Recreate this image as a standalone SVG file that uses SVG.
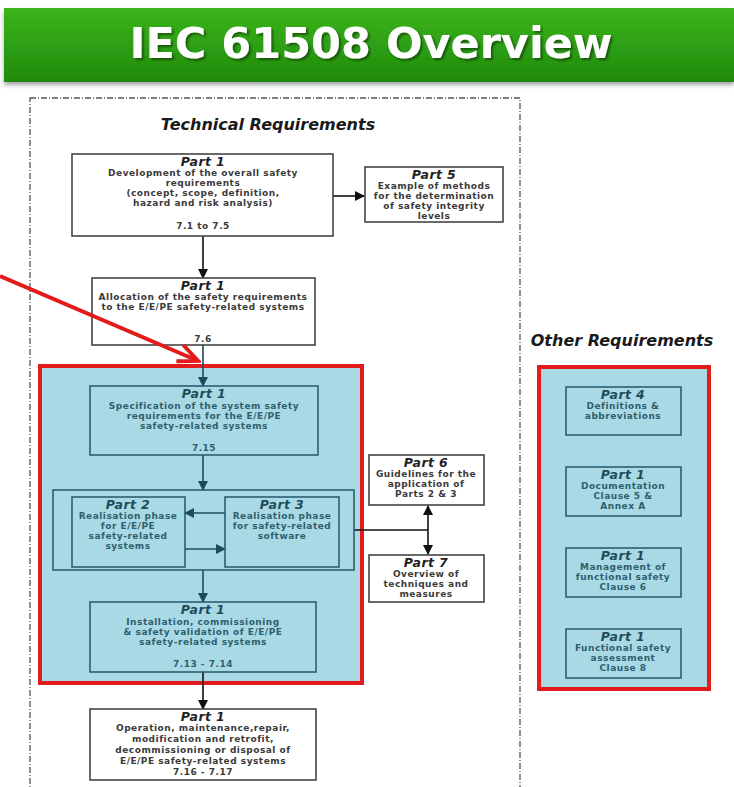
<svg xmlns="http://www.w3.org/2000/svg" width="734" height="787" viewBox="0 0 734 787">
<defs>
<linearGradient id="gb" x1="0" y1="0" x2="0" y2="1">
<stop offset="0" stop-color="#3cb51c"/>
<stop offset="1" stop-color="#1f8a0c"/>
</linearGradient>
<filter id="sh" x="-5%" y="-20%" width="110%" height="150%"><feDropShadow dx="2" dy="2" stdDeviation="1.2" flood-color="#000" flood-opacity="0.45"/></filter>
<filter id="bs" x="-2%" y="-10%" width="104%" height="130%"><feDropShadow dx="0" dy="3" stdDeviation="2" flood-color="#000" flood-opacity="0.35"/></filter>
<marker id="ab" viewBox="0 0 10 10" refX="9" refY="5" markerUnits="userSpaceOnUse" markerWidth="11" markerHeight="10" orient="auto-start-reverse"><path d="M0,0 L10,5 L0,10 z" fill="#111"/></marker>
<marker id="at" viewBox="0 0 10 10" refX="9" refY="5" markerUnits="userSpaceOnUse" markerWidth="11" markerHeight="10" orient="auto-start-reverse"><path d="M0,0 L10,5 L0,10 z" fill="#1d4c5a"/></marker>
<marker id="ar" viewBox="0 0 10 10" refX="8" refY="5" markerUnits="userSpaceOnUse" markerWidth="24" markerHeight="22" orient="auto"><path d="M0,1 L9,5 L0,9" fill="none" stroke="#e31b1b" stroke-width="1.8" stroke-linejoin="miter"/></marker>
</defs>
<style>
text{font-family:"DejaVu Sans",Verdana,sans-serif;text-anchor:middle}
.t{font-size:9px;font-weight:bold;fill:#3a3a3a;letter-spacing:0.5px}
.tb{font-size:9px;font-weight:bold;fill:#2f5f6e;letter-spacing:0.5px}
.h{font-size:12.5px;font-weight:bold;font-style:italic;fill:#222;letter-spacing:0.4px}
.hb{font-size:12.5px;font-weight:bold;font-style:italic;fill:#1d4c5a;letter-spacing:0.4px}
.w{fill:#fff;stroke:#444;stroke-width:1.6}
.b{fill:none;stroke:#2b5f70;stroke-width:1.6}
.red{fill:#a9d9e5;stroke:#e31b1b;stroke-width:4}
.cb{stroke:#111;stroke-width:1.6;fill:none}
.ct{stroke:#1d4c5a;stroke-width:1.6;fill:none}
.sec{font-size:16px;font-weight:bold;font-style:italic;fill:#1a1a1a}
</style>
<rect width="734" height="787" fill="#fff"/>
<g id="banner">
<rect x="4" y="8" width="730" height="74" fill="url(#gb)" filter="url(#bs)"/>
<text x="371" y="58" filter="url(#sh)" style="font-size:43px;font-weight:bold;fill:#fff">IEC 61508 Overview</text>
</g>
<rect x="30" y="98" width="490" height="700" fill="none" stroke="#555" stroke-width="1.3" stroke-dasharray="6,2,1,2"/>
<text class="sec" x="268" y="130">Technical Requirements</text>
<text class="sec" x="622" y="346">Other Requirements</text>
<rect class="red" x="40" y="366" width="322" height="317"/>
<rect class="red" x="539" y="367" width="170" height="322"/>
<g id="connectors">
<line class="cb" x1="333" y1="196" x2="364" y2="196" marker-end="url(#ab)"/>
<line class="cb" x1="203" y1="236" x2="203" y2="278" marker-end="url(#ab)"/>
<line class="ct" x1="203" y1="345" x2="203" y2="386" marker-end="url(#at)"/>
<line class="ct" x1="203" y1="455" x2="203" y2="490" marker-end="url(#at)"/>
<line class="ct" x1="225" y1="513" x2="185" y2="513" marker-end="url(#at)"/>
<line class="ct" x1="185" y1="549" x2="225" y2="549" marker-end="url(#at)"/>
<line class="cb" x1="354" y1="530" x2="428" y2="530" stroke-width="1.2"/>
<line class="cb" x1="428" y1="506" x2="428" y2="554" marker-start="url(#ab)" marker-end="url(#ab)"/>
<line class="ct" x1="203" y1="570" x2="203" y2="602" marker-end="url(#at)"/>
<line class="cb" x1="203" y1="672" x2="203" y2="709" marker-end="url(#ab)"/>
</g>
<g id="p1-dev">
<rect class="w" x="72" y="154" width="261" height="82"/>
<text class="h" x="203" y="166">Part 1</text>
<text class="t" x="203" y="176">Development of the overall safety</text>
<text class="t" x="203" y="186">requirements</text>
<text class="t" x="203" y="196">(concept, scope, definition,</text>
<text class="t" x="203" y="206">hazard and risk analysis)</text>
<text class="t" x="203" y="229">7.1 to 7.5</text>
</g>
<g id="p5">
<rect class="w" x="365" y="167" width="138" height="55"/>
<text class="h" x="434" y="179">Part 5</text>
<text class="t" x="434" y="189">Example of methods</text>
<text class="t" x="434" y="199">for the determination</text>
<text class="t" x="434" y="209">of safety integrity</text>
<text class="t" x="434" y="219">levels</text>
</g>
<g id="p1-alloc">
<rect class="w" x="92" y="278" width="223" height="67"/>
<text class="h" x="203" y="290">Part 1</text>
<text class="t" x="203" y="300">Allocation of the safety requirements</text>
<text class="t" x="203" y="310">to the E/E/PE safety-related systems</text>
<text class="t" x="203" y="342">7.6</text>
</g>
<g id="p1-spec">
<rect class="b" x="90" y="386" width="228" height="69"/>
<text class="hb" x="204" y="398">Part 1</text>
<text class="tb" x="204" y="409">Specification of the system safety</text>
<text class="tb" x="204" y="419">requirements for the E/E/PE</text>
<text class="tb" x="204" y="429">safety-related systems</text>
<text class="tb" x="204" y="451">7.15</text>
</g>
<g id="realisation">
<rect class="b" x="53" y="490" width="301" height="80"/>
</g>
<g id="p2">
<rect class="b" x="72" y="497" width="113" height="70"/>
<text class="hb" x="128" y="509">Part 2</text>
<text class="tb" x="128" y="519">Realisation phase</text>
<text class="tb" x="128" y="529">for E/E/PE</text>
<text class="tb" x="128" y="539">safety-related</text>
<text class="tb" x="128" y="549">systems</text>
</g>
<g id="p3">
<rect class="b" x="225" y="497" width="114" height="70"/>
<text class="hb" x="282" y="509">Part 3</text>
<text class="tb" x="282" y="519">Realisation phase</text>
<text class="tb" x="282" y="529">for safety-related</text>
<text class="tb" x="282" y="539">software</text>
</g>
<g id="p6">
<rect class="w" x="369" y="455" width="115" height="50"/>
<text class="h" x="426" y="467">Part 6</text>
<text class="t" x="426" y="477">Guidelines for the</text>
<text class="t" x="426" y="487">application of</text>
<text class="t" x="426" y="497">Parts 2 &amp; 3</text>
</g>
<g id="p7">
<rect class="w" x="369" y="555" width="115" height="47"/>
<text class="h" x="426" y="567">Part 7</text>
<text class="t" x="426" y="577">Overview of</text>
<text class="t" x="426" y="587">techniques and</text>
<text class="t" x="426" y="597">measures</text>
</g>
<g id="p1-install">
<rect class="b" x="90" y="602" width="226" height="70"/>
<text class="hb" x="203" y="614">Part 1</text>
<text class="tb" x="203" y="625">Installation, commissioning</text>
<text class="tb" x="203" y="635">&amp; safety validation of E/E/PE</text>
<text class="tb" x="203" y="645">safety-related systems</text>
<text class="tb" x="203" y="667">7.13 - 7.14</text>
</g>
<g id="p1-operation">
<rect class="w" x="90" y="709" width="226" height="71"/>
<text class="h" x="203" y="721">Part 1</text>
<text class="t" x="203" y="731">Operation, maintenance,repair,</text>
<text class="t" x="203" y="742">modification and retrofit,</text>
<text class="t" x="203" y="753">decommissioning or disposal of</text>
<text class="t" x="203" y="764">E/E/PE safety-related systems</text>
<text class="t" x="203" y="775">7.16 - 7.17</text>
</g>
<g id="p4">
<rect class="b" x="566" y="387" width="115" height="48"/>
<text class="hb" x="623" y="399">Part 4</text>
<text class="tb" x="623" y="409">Definitions &amp;</text>
<text class="tb" x="623" y="419">abbreviations</text>
</g>
<g id="p1-doc">
<rect class="b" x="566" y="467" width="115" height="49"/>
<text class="hb" x="623" y="479">Part 1</text>
<text class="tb" x="623" y="489">Documentation</text>
<text class="tb" x="623" y="499">Clause 5 &amp;</text>
<text class="tb" x="623" y="509">Annex A</text>
</g>
<g id="p1-mgmt">
<rect class="b" x="566" y="548" width="115" height="49"/>
<text class="hb" x="623" y="560">Part 1</text>
<text class="tb" x="623" y="570">Management of</text>
<text class="tb" x="623" y="580">functional safety</text>
<text class="tb" x="623" y="590">Clause 6</text>
</g>
<g id="p1-assess">
<rect class="b" x="566" y="629" width="115" height="49"/>
<text class="hb" x="623" y="641">Part 1</text>
<text class="tb" x="623" y="651">Functional safety</text>
<text class="tb" x="623" y="661">assessment</text>
<text class="tb" x="623" y="671">Clause 8</text>
</g>
<g id="pointer">
<line x1="0" y1="276" x2="196" y2="360" stroke="#e31b1b" stroke-width="4" marker-end="url(#ar)"/>
</g>
</svg>
